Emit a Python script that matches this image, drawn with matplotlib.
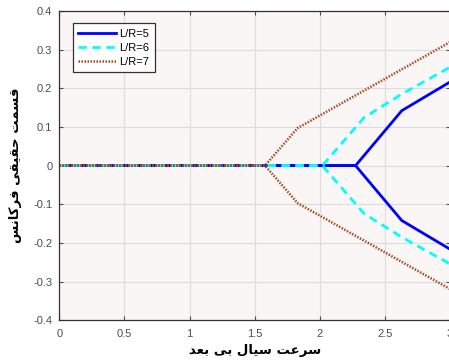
import matplotlib
matplotlib.use("Agg")
import matplotlib.pyplot as plt

# ---------------- data ----------------
labels = ["L/R=5", "L/R=6", "L/R=7"]
x_lr5 = [0.0, 2.275, 2.63, 3.0]
y_lr5 = [0.0, 0.0, 0.142, 0.216]
x_lr6 = [0.0, 2.02, 2.34, 2.63, 3.0]
y_lr6 = [0.0, 0.0, 0.124, 0.185, 0.254]
x_lr7 = [0.0, 1.58, 1.83, 3.0]
y_lr7 = [0.0, 0.0, 0.097, 0.319]

xticks = [0, 0.5, 1, 1.5, 2, 2.5, 3]
yticks = [-0.4, -0.3, -0.2, -0.1, 0, 0.1, 0.2, 0.3, 0.4]

xlabel_text = "سرعت سیال بی بعد"
ylabel_text = "قسمت حقیقی فرکانس"

# ---------- minimal Arabic/Persian shaping (presentation forms) ----------
# letter: (isolated, final, initial, medial) ; None for initial/medial => non-joining to next
FORMS = {
    "ا": ("\uFE8D", "\uFE8E", None, None),
    "ب": ("\uFE8F", "\uFE90", "\uFE91", "\uFE92"),
    "ت": ("\uFE95", "\uFE96", "\uFE97", "\uFE98"),
    "ح": ("\uFEA1", "\uFEA2", "\uFEA3", "\uFEA4"),
    "د": ("\uFEA9", "\uFEAA", None, None),
    "ر": ("\uFEAD", "\uFEAE", None, None),
    "س": ("\uFEB1", "\uFEB2", "\uFEB3", "\uFEB4"),
    "ع": ("\uFEC9", "\uFECA", "\uFECB", "\uFECC"),
    "ف": ("\uFED1", "\uFED2", "\uFED3", "\uFED4"),
    "ق": ("\uFED5", "\uFED6", "\uFED7", "\uFED8"),
    "ل": ("\uFEDD", "\uFEDE", "\uFEDF", "\uFEE0"),
    "م": ("\uFEE1", "\uFEE2", "\uFEE3", "\uFEE4"),
    "ن": ("\uFEE5", "\uFEE6", "\uFEE7", "\uFEE8"),
    "ک": ("\uFB8E", "\uFB8F", "\uFB90", "\uFB91"),
    "ی": ("\uFBFC", "\uFBFD", "\uFBFE", "\uFBFF"),
}


def shape(text):
    out = []
    chars = list(text)
    for i, c in enumerate(chars):
        if c not in FORMS:
            out.append(c)
            continue
        prev = chars[i - 1] if i > 0 else None
        nxt = chars[i + 1] if i + 1 < len(chars) else None
        joins_prev = prev in FORMS and FORMS[prev][2] is not None
        can_join_next = FORMS[c][2] is not None
        joins_next = can_join_next and nxt in FORMS
        iso, fin, ini, med = FORMS[c]
        if joins_prev and joins_next:
            out.append(med)
        elif joins_prev:
            out.append(fin)
        elif joins_next:
            out.append(ini)
        else:
            out.append(iso)
    return "".join(reversed(out))


# ---------------- figure ----------------
plt.rcParams["font.family"] = ["Liberation Sans", "DejaVu Sans"]

fig = plt.figure(figsize=(4.49, 3.60), dpi=100)
fig.patch.set_facecolor("white")
ax = fig.add_axes([0.132, 0.110, 0.8702, 0.860])
ax.set_facecolor("#F9F6F5")

c5, c6, c7 = "#0000FF", "#00FFFF", "#A84A1E"
lw = 2.0
ax.plot(x_lr5, y_lr5, color=c5, lw=lw, ls="-", label=labels[0])
ax.plot(x_lr5, [-v for v in y_lr5], color=c5, lw=lw, ls="-")
ax.plot(x_lr6, y_lr6, color=c6, lw=lw, ls=(0, (3, 2)), label=labels[1])
ax.plot(x_lr6, [-v for v in y_lr6], color=c6, lw=lw, ls=(0, (3, 2)))
ax.plot(x_lr7, y_lr7, color=c7, lw=1.8, ls=(0, (0.6, 0.6)), label=labels[2])
ax.plot(x_lr7, [-v for v in y_lr7], color=c7, lw=1.8, ls=(0, (0.6, 0.6)))

ax.set_xlim(0, 3)
ax.set_ylim(-0.4, 0.4)
ax.set_xticks(xticks)
ax.set_xticklabels([f"{t:g}" for t in xticks])
ax.set_yticks(yticks)
ax.set_yticklabels([f"{t:g}" for t in yticks])
ax.grid(True, color="#DCDCDC", lw=0.8)
ax.set_axisbelow(True)
ax.tick_params(direction="in", length=3, width=0.8, colors="#4D4D4D",
               labelsize=8, top=True, right=True)
ax.tick_params(axis="x", pad=6)
ax.tick_params(axis="y", pad=5)
for s in ax.spines.values():
    s.set_color("#333333")
    s.set_linewidth(0.9)

ax.set_xlabel(shape(xlabel_text), family=["DejaVu Sans"], fontsize=9.5,
              fontweight="bold", va="center")
ax.xaxis.set_label_coords(0.5, -0.098)
ax.set_ylabel(shape(ylabel_text), family=["DejaVu Sans"], fontsize=9.5,
              fontweight="bold", labelpad=8)

leg = ax.legend(loc="upper left", bbox_to_anchor=(0.035, 0.96), borderaxespad=0,
                fontsize=8, handlelength=3.4, handletextpad=0.3, labelspacing=0.35,
                fancybox=False, framealpha=1, edgecolor="#333333",
                borderpad=0.5)
leg.get_frame().set_linewidth(0.9)

fig.savefig("out.png", dpi=100)
